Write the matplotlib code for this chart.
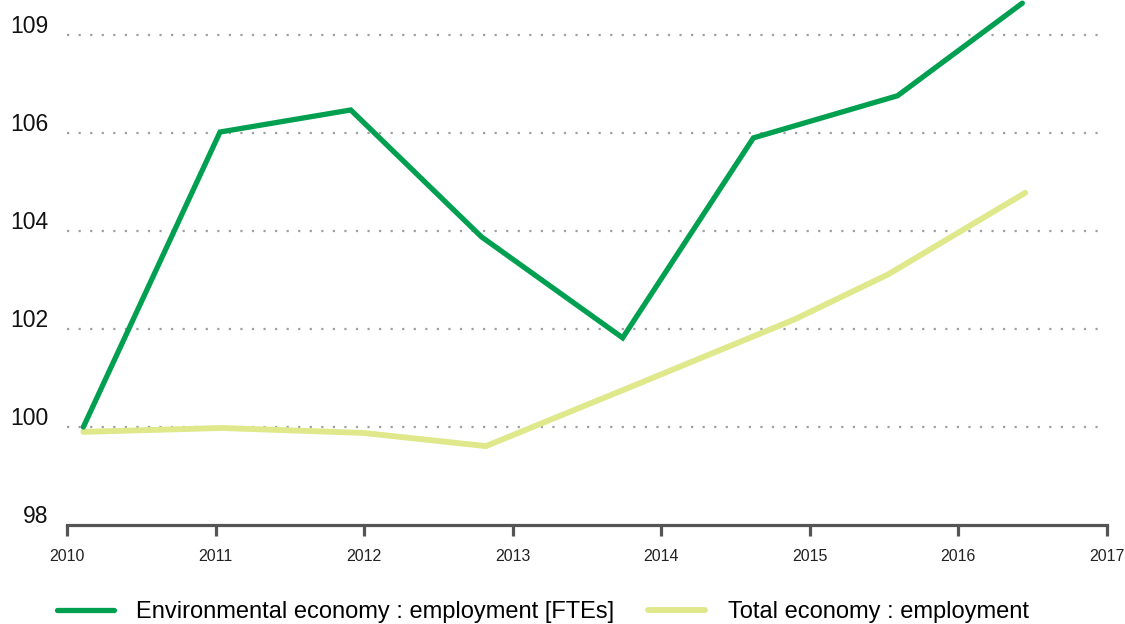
import matplotlib
matplotlib.use("Agg")
import matplotlib.pyplot as plt
from matplotlib.transforms import blended_transform_factory, offset_copy

plt.rcParams['font.family'] = ['Liberation Sans', 'DejaVu Sans']

# data (x positions as fractional years)
env_years = [2010.11, 2011.03, 2011.91, 2012.79, 2013.74, 2014.62, 2015.59, 2016.43]
env_values = [100.0, 106.02, 106.47, 103.88, 101.82, 105.90, 106.76, 108.65]

tot_years = [2010.11, 2011.04, 2011.99, 2012.82, 2013.86, 2014.90, 2015.53, 2016.45]
tot_values = [99.90, 99.98, 99.88, 99.61, 100.90, 102.20, 103.12, 104.78]

x_ticks = [2010, 2011, 2012, 2013, 2014, 2015, 2016, 2017]
y_ticks = [98, 100, 102, 104, 106, 108]
y_labels = ['98', '100', '102', '104', '106', '109']

green = '#00a050'
light = '#dfe88a'

fig = plt.figure(figsize=(11.25, 6.24), dpi=100)
ax = fig.add_axes([67 / 1125, 1 - 525 / 624, (1107 - 67) / 1125, 525 / 624])

ax.plot(tot_years, tot_values, color=light, lw=4.2, solid_capstyle='round',
        solid_joinstyle='miter', clip_on=False, label='Total economy : employment', zorder=3)
ax.plot(env_years, env_values, color=green, lw=3.8, solid_capstyle='round',
        solid_joinstyle='miter', clip_on=False, label='Environmental economy : employment [FTEs]', zorder=4)

ax.set_xlim(2010, 2017)
ax.set_ylim(98, 108 + 35 / 49)

# dotted gridlines
for v in y_ticks[1:]:
    ax.axhline(v, color='#a0a0a0', lw=1.6, linestyle=(0, (1, 4.2)), zorder=1, clip_on=False)

for s in ['top', 'right', 'left']:
    ax.spines[s].set_visible(False)
ax.spines['bottom'].set_color('#555555')
ax.spines['bottom'].set_linewidth(2.3)

ax.set_yticks([])
ax.set_xticks(x_ticks)
ax.set_xticklabels([str(y) for y in x_ticks], fontsize=11.5, color='#222222')
ax.tick_params(axis='x', length=8, width=2.3, color='#555555', pad=9)

# y labels sit just above their gridlines
trans = blended_transform_factory(ax.transAxes, ax.transData)
trans = offset_copy(trans, fig=fig, x=-19, y=2, units='dots')
for v, lab in zip(y_ticks, y_labels):
    ax.text(0, v, lab, transform=trans, ha='right', va='baseline',
            fontsize=16.5, color='#111111')

handles, labels = ax.get_legend_handles_labels()
fig.legend(handles[::-1], labels[::-1], loc='center left', ncol=2, frameon=False,
           bbox_to_anchor=(57 / 1125, 1 - 612 / 624), borderaxespad=0, borderpad=0,
           fontsize=17, handlelength=2.4, handletextpad=0.95, columnspacing=1.45)

fig.savefig('out.png', dpi=100)
